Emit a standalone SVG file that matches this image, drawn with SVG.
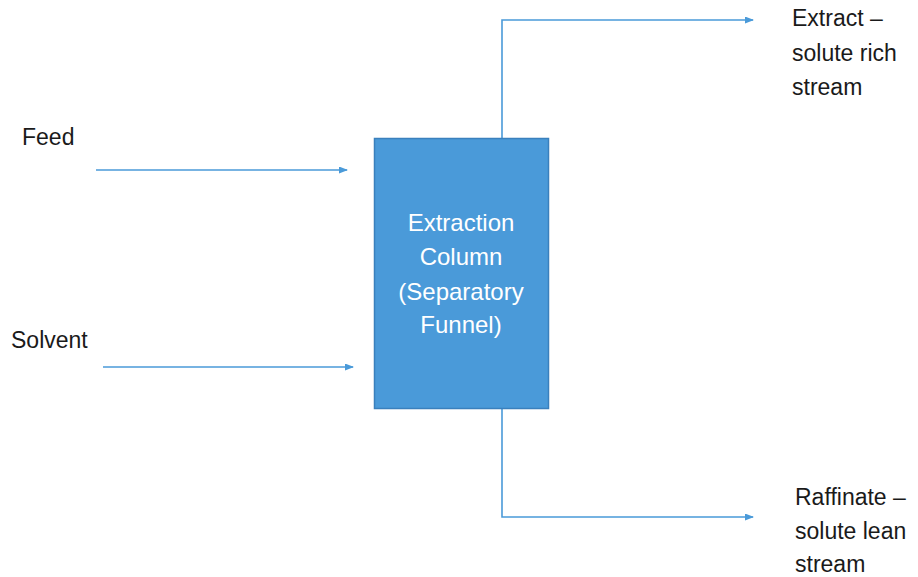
<svg xmlns="http://www.w3.org/2000/svg" width="918" height="577" viewBox="0 0 918 577">
  <defs>
    <marker id="arrow" markerWidth="9" markerHeight="7" refX="8" refY="3.5" orient="auto" markerUnits="userSpaceOnUse">
      <path d="M0,0 L9,3.5 L0,7 Z" fill="#4a9ad9"/>
    </marker>
    <style>
      .label { font-family: "Liberation Sans", Arial, sans-serif; font-size: 23px; fill: #1a1a1a; }
      .inner { font-family: "Liberation Sans", Arial, sans-serif; font-size: 24px; fill: #ffffff; text-anchor: middle; }
      .flow { fill: none; stroke: #4a9ad9; stroke-width: 1.6; marker-end: url(#arrow); }
    </style>
  </defs>
  <rect width="918" height="577" fill="#ffffff"/>

  <g id="connectors">
    <path class="flow" d="M96,170 H347"/>
    <path class="flow" d="M103,367 H353"/>
    <path class="flow" d="M502,138 V20 H753"/>
    <path class="flow" d="M502,409 V517 H753"/>
  </g>

  <g id="column">
    <rect x="374.5" y="138.5" width="174" height="270" fill="#4a9ad9" stroke="#3a80bd" stroke-width="1.5"/>
    <text class="inner" x="461" y="231">Extraction</text>
    <text class="inner" x="461" y="265">Column</text>
    <text class="inner" x="461" y="300">(Separatory</text>
    <text class="inner" x="461" y="333">Funnel)</text>
  </g>

  <g id="feed">
    <text class="label" x="22" y="145">Feed</text>
  </g>

  <g id="solvent">
    <text class="label" x="11" y="348">Solvent</text>
  </g>

  <g id="extract">
    <text class="label" x="792" y="26">Extract –</text>
    <text class="label" x="792" y="61">solute rich</text>
    <text class="label" x="792" y="95">stream</text>
  </g>

  <g id="raffinate">
    <text class="label" x="795" y="505">Raffinate –</text>
    <text class="label" x="795" y="539">solute lean</text>
    <text class="label" x="795" y="572">stream</text>
  </g>
</svg>
